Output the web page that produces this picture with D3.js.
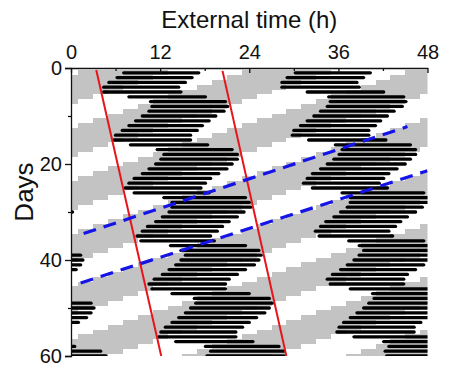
<!DOCTYPE html>
<html>
<head>
<meta charset="utf-8">
<script src="https://d3js.org/d3.v7.min.js"></script>
<style>
body { margin: 0; background: #fff; }
svg text { font-family: "Liberation Sans", Arial, sans-serif; fill: #111; }
</style>
</head>
<body>
<div id="chart"></div>
<script>
var width = 452,
    height = 385;

// activity bouts, one per day: onset / offset in h after the day started (offset may run past 24)
var days   = [1,2,3,4,5,6,7,8,9,10,11,12,13,14,15,16,17,18,19,20,21,22,23,24,25,26,27,28,29,30,
              31,32,33,34,35,36,37,38,39,40,41,42,43,44,45,46,47,48,49,50,51,52,53,54,55,56,57,58,59,60,61];
var actOn  = [7.1,6.2,5.1,4.4,4.4,7.8,10.7,10.9,10.5,9.6,8.7,7.8,6.9,6.0,5.8,8.0,11.6,12.5,12.1,11.4,
              10.5,9.6,8.5,7.8,7.3,8.5,12.5,13.6,13.6,13.2,12.3,11.4,10.3,9.6,8.9,9.4,13.4,14.8,15.4,14.8,
              14.1,13.2,12.3,11.2,10.5,10.9,13.6,16.6,16.8,16.1,15.4,14.5,13.6,12.7,12.1,11.8,14.1,18.1,18.8,18.3,18.5];
var actOff = [17.2,16.3,15.4,14.5,14.8,18.1,20.8,21.1,20.6,19.5,18.6,17.7,17.0,16.1,16.1,18.4,21.7,22.4,22.4,21.7,
              21.0,19.9,18.8,18.1,17.5,18.6,23.5,24.0,24.2,23.3,22.4,21.3,20.4,19.7,18.8,19.3,23.5,25.3,25.6,25.3,
              24.7,23.5,22.4,21.3,20.8,20.8,24.0,26.7,27.1,26.7,26.1,25.0,24.0,23.1,22.2,22.2,24.5,28.0,28.7,28.7,28.8];

// light phases of the external cycle: onset of each light phase (h, counted from t = 0)
var lightOn = [3,25,47,69,91,113,135,157,179,201,223,245,267,289,311,333,355,377,399,421,443,465,487,
               509,531,553,575,597,619,641,663,685,707,729,751,773,795,817,839,861,883,905,927,949,971,993,
               1015,1037,1059,1081,1103,1125,1147,1169,1191,1213,1235,1257,1279,1301,1323,1345,1367,1389,
               1411,1433,1455,1477,1499];
var lightLen = 12;

// fitted lines, [hour, day]
var redLines  = [[[3.4, 0.4], [12.15, 60]], [[20.4, 0.6], [29.0, 60]]];
var blueLines = [[[1.7, 34.5], [45.3, 12.2]], [[1.3, 44.8], [48, 21.4]]];

var xTicks = [0, 12, 24, 36, 48],
    xMinor = [6, 18, 30, 42],
    yTicks = [0, 20, 40, 60],
    yMinor = [10, 30, 50];

var svg = d3.select("#chart").append("svg")
    .attr("width", width)
    .attr("height", height);

var x = d3.scaleLinear().domain([0, 48]).range([71, 427.5]);
var y = d3.scaleLinear().domain([0, 60]).range([68, 356]);

svg.append("clipPath").attr("id", "plotclip")
  .append("rect")
    .attr("x", x(0)).attr("y", y(0))
    .attr("width", x(48) - x(0)).attr("height", y(60) - y(0));

var plot = svg.append("g").attr("clip-path", "url(#plotclip)");

// 1) cut everything into the double plotted rows (row r = t from 24r to 24r+48)
var rows = days.slice(0, 60);
var graySegs = [], actSegs = [];

rows.forEach(function(r) {
    var t0 = 24 * r, t1 = t0 + 48;
    lightOn.forEach(function(o) {
        var a = Math.max(o, t0), b = Math.min(o + lightLen, t1);
        if (b > a) graySegs.push({row: r, x0: a - t0, x1: b - t0});
    });
    days.forEach(function(d, i) {
        var a = 24 * d + actOn[i], b = 24 * d + actOff[i];
        var a2 = Math.max(a, t0), b2 = Math.min(b, t1);
        if (b2 > a2) actSegs.push({row: r, x0: a2 - t0, x1: b2 - t0});
    });
});

// 2) light = gray steps
plot.selectAll(".light")
    .data(graySegs)
    .enter().append("rect")
    .attr("class", "light")
    .attr("x", function(d) { return x(d.x0); })
    .attr("width", function(d) { return x(d.x1) - x(d.x0); })
    .attr("y", function(d) { return y(d.row - 0.5); })
    .attr("height", function(d) { return y(d.row + 0.5) - y(d.row - 0.5); })
    .attr("fill", "#c3c3c3")
    .attr("shape-rendering", "crispEdges");

// 3) activity = black bars
plot.selectAll(".act")
    .data(actSegs)
    .enter().append("line")
    .attr("class", "act")
    .attr("x1", function(d) { return x(d.x0); })
    .attr("x2", function(d) { return x(d.x1); })
    .attr("y1", function(d) { return y(d.row); })
    .attr("y2", function(d) { return y(d.row); })
    .style("stroke", "#000")
    .style("stroke-width", 3.3)
    .style("stroke-linecap", "round");

// 4) red + blue lines
var line = d3.line()
    .x(function(d) { return x(d[0]); })
    .y(function(d) { return y(d[1]); });

plot.selectAll(".red")
    .data(redLines)
    .enter().append("path")
    .attr("d", line)
    .attr("fill", "none")
    .style("stroke", "#e8141c")
    .style("stroke-width", 2);

plot.selectAll(".blue")
    .data(blueLines)
    .enter().append("path")
    .attr("d", line)
    .attr("fill", "none")
    .style("stroke", "#1414e6")
    .style("stroke-width", 3.2)
    .style("stroke-dasharray", "13,8");

// 5) axes
svg.append("g")
    .attr("transform", "translate(0," + y(0) + ")")
    .call(d3.axisTop(x).tickValues(xTicks).tickSizeInner(-5).tickSizeOuter(0).tickPadding(9));
svg.append("g")
    .attr("transform", "translate(0," + y(0) + ")")
    .call(d3.axisTop(x).tickValues(xMinor).tickSizeInner(-3).tickSizeOuter(0).tickFormat(""))
    .select(".domain").remove();

svg.append("g")
    .attr("transform", "translate(" + x(0) + ",0)")
    .call(d3.axisLeft(y).tickValues(yTicks).tickSize(6).tickPadding(3));
svg.append("g")
    .attr("transform", "translate(" + x(0) + ",0)")
    .call(d3.axisLeft(y).tickValues(yMinor).tickSize(3).tickFormat(""))
    .select(".domain").remove();

svg.selectAll(".tick text")
    .style("font-size", "20px")
    .style("font-family", "'Liberation Sans', Arial, sans-serif")
    .attr("fill", "#111");
svg.selectAll(".domain, .tick line")
    .attr("stroke", "#111")
    .attr("stroke-width", 1.3);

svg.append("text")
    .attr("x", (x(0) + x(48)) / 2)
    .attr("y", 28)
    .attr("text-anchor", "middle")
    .style("font-size", "24px")
    .text("External time (h)");

svg.append("text")
    .attr("transform", "translate(33,192) rotate(-90)")
    .attr("text-anchor", "middle")
    .style("font-size", "26px")
    .text("Days");
</script>
</body>
</html>
